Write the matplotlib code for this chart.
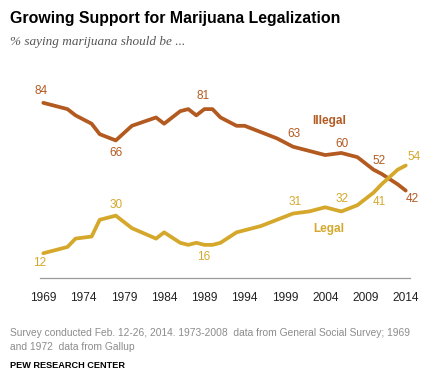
import numpy as np
import matplotlib
matplotlib.use("Agg")
import matplotlib.pyplot as plt

years = [1969, 1972, 1973, 1975, 1976, 1978, 1980, 1983, 1984, 1986, 1987, 1988, 1989, 1990,
         1991, 1993, 1994, 1996, 1998, 2000, 2002, 2004, 2006, 2008, 2010, 2011, 2013, 2014]
illegal = [84, 81, 78, 74, 69, 66, 73, 77, 74, 80, 81, 78, 81, 81,
           77, 73, 73, 70, 67, 63, 61, 59, 60, 58, 52, 50, 45, 42]
legal = [12, 15, 19, 20, 28, 30, 24, 19, 22, 17, 16, 17, 16, 16,
         17, 22, 23, 25, 28, 31, 32, 34, 32, 35, 41, 45, 52, 54]
tick_years = [1969, 1974, 1979, 1984, 1989, 1994, 1999, 2004, 2009, 2014]

# (year, value, dx px, dy px) for the labelled points
illegal_labels = [(1969, 84, -2, 12), (1978, 66, 0, -13), (1989, 81, -1, 13),
                  (2000, 63, 1, 13), (2006, 60, 1, 9), (2010, 52, 6, 9), (2014, 42, 7, -8)]
legal_labels = [(1969, 12, -4, -10), (1978, 30, 0, 11), (1989, 16, -1, -12),
                (2000, 31, 2, 12), (2006, 32, 1, 12), (2010, 41, 6, -9), (2014, 54, 8, 8)]

c_ill = "#b35a21"
c_leg = "#d5a82b"
W, H = 435, 381

fig = plt.figure(figsize=(W / 100, H / 100), dpi=100)
ax = fig.add_axes([40 / W, (H - 278.3) / H, 370 / W, 188 / H])

ax.plot(years, illegal, color=c_ill, lw=2.7, solid_capstyle="round", solid_joinstyle="round")
ax.plot(years, legal, color=c_leg, lw=2.7, solid_capstyle="round", solid_joinstyle="round")

for yr, v, dx, dy in illegal_labels:
    ax.annotate(str(v), (yr, v), xytext=(dx, dy), textcoords="offset pixels",
                ha="center", va="center", color=c_ill, fontsize=8.5, family="Liberation Sans")
for yr, v, dx, dy in legal_labels:
    ax.annotate(str(v), (yr, v), xytext=(dx, dy), textcoords="offset pixels",
                ha="center", va="center", color=c_leg, fontsize=8.5, family="Liberation Sans")

ax.text(2004.5, 75.3, "Illegal", color=c_ill, fontsize=8.5, fontweight="bold",
        ha="center", va="center", family="Liberation Sans")
ax.text(2004.5, 23.4, "Legal", color=c_leg, fontsize=8.5, fontweight="bold",
        ha="center", va="center", family="Liberation Sans")

ax.set_xlim(1968.59, 2014.53)
ax.set_ylim(0, 90)
ax.set_xticks(tick_years)
ax.set_xticklabels([str(t) for t in tick_years], family="Liberation Sans", fontsize=8.6, color="#222222")
ax.tick_params(axis="x", length=0, pad=10)
ax.set_yticks([])
for s in ["top", "right", "left"]:
    ax.spines[s].set_visible(False)
ax.spines["bottom"].set_color("#9a9a9a")
ax.spines["bottom"].set_linewidth(0.9)

fig.text(10 / W, 1 - 23 / H, "Growing Support for Marijuana Legalization", fontsize=11.4,
         fontweight="bold", family="Liberation Sans", va="baseline")
fig.text(10 / W, 1 - 44.5 / H, "% saying marijuana should be ...", fontsize=9.5,
         style="italic", family="Liberation Serif", color="#555555", va="baseline")
fig.text(10 / W, 1 - 336 / H,
         "Survey conducted Feb. 12-26, 2014. 1973-2008  data from General Social Survey; 1969",
         fontsize=7.4, family="Liberation Sans", color="#8c8c8c", va="baseline")
fig.text(10 / W, 1 - 349.5 / H, "and 1972  data from Gallup",
         fontsize=7.4, family="Liberation Sans", color="#8c8c8c", va="baseline")
fig.text(10 / W, 1 - 368 / H, "PEW RESEARCH CENTER", fontsize=6.6, fontweight="bold",
         family="Liberation Sans", va="baseline")

fig.savefig("out.png", dpi=100)
